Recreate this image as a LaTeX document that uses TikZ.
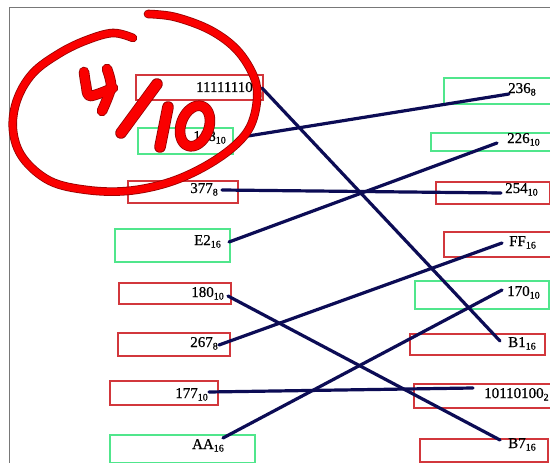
\documentclass[tikz,border=0pt]{standalone}
\usepackage{fontspec}
\setmainfont{Liberation Serif}
\newfontfamily\labfont[FakeBold=0.6]{Liberation Serif}
\definecolor{boxred}{RGB}{210,55,60}
\definecolor{boxgreen}{RGB}{80,230,140}
\definecolor{wirec}{RGB}{12,12,85}
\definecolor{frameg}{RGB}{120,120,120}
\definecolor{ink}{RGB}{250,0,0}
\definecolor{inkedge}{RGB}{150,0,0}
\newcommand\nb[2]{#1\raisebox{-2.5pt}{\fontsize{10}{10}\selectfont #2}}
\tikzset{
  rbox/.style={draw=boxred, line width=1.8pt, inner sep=0pt, anchor=north west},
  gbox/.style={draw=boxgreen, line width=1.8pt, inner sep=0pt, anchor=north west},
  ltext/.style={anchor=base east, inner sep=0pt, font=\labfont\fontsize{15}{15}\selectfont},
  rtext/.style={anchor=base west, inner sep=0pt, font=\labfont\fontsize{15}{15}\selectfont},
  wire/.style={draw=wirec, line width=3.2pt, line cap=round},
  inkline/.style={draw=ink, line cap=round, line join=round},
  inkunder/.style={draw=inkedge, line cap=round, line join=round}
}
\begin{document}
\begin{tikzpicture}[x=1pt,y=-1pt]
\useasboundingbox (0,0) rectangle (550,463);
\clip (0,0) rectangle (550,463);
\fill[white] (0,0) rectangle (550,463);
% frame
\draw[frameg, line width=1pt] (9,470) -- (9,7) -- (560,7);

% left boxes
\node[rbox, minimum width=127pt, minimum height=25pt] (L1) at (135,74) {};
\node[gbox, minimum width=95pt, minimum height=26pt] (L2) at (137,127) {};
\node[rbox, minimum width=110pt, minimum height=22pt] (L3) at (127,180) {};
\node[gbox, minimum width=115pt, minimum height=33pt] (L4) at (114,228) {};
\node[rbox, minimum width=112pt, minimum height=21pt] (L5) at (118,282) {};
\node[rbox, minimum width=112pt, minimum height=23pt] (L6) at (117,332) {};
\node[rbox, minimum width=108pt, minimum height=24pt] (L7) at (109,380) {};
\node[gbox, minimum width=145pt, minimum height=28pt] (L8) at (109,434) {};

% right boxes
\node[gbox, minimum width=117pt, minimum height=26pt] (R1) at (443,77) {};
\node[gbox, minimum width=130pt, minimum height=18pt] (R2) at (430,132) {};
\node[rbox, minimum width=114pt, minimum height=22pt] (R3) at (435,181) {};
\node[rbox, minimum width=117pt, minimum height=25pt] (R4) at (443,231) {};
\node[gbox, minimum width=134pt, minimum height=28pt] (R5) at (414,280) {};
\node[rbox, minimum width=135pt, minimum height=21pt] (R6) at (409,333) {};
\node[rbox, minimum width=147pt, minimum height=24pt] (R7) at (413,383) {};
\node[rbox, minimum width=128pt, minimum height=23pt] (R8) at (419,438) {};

% left labels
\node[ltext] (t1) at (253,92) {11111110};
\node[ltext] (t2) at (226,141) {\nb{158}{10}};
\node[ltext] (t3) at (218,193) {\nb{377}{8}};
\node[ltext] (t4) at (221,245) {\nb{E2}{16}};
\node[ltext] (t5) at (224,297) {\nb{180}{10}};
\node[ltext] (t6) at (218,347) {\nb{267}{8}};
\node[ltext] (t7) at (208,398) {\nb{177}{10}};
\node[ltext] (t8) at (224,449) {\nb{AA}{16}};

% right labels
\node[rtext] (u1) at (508,93) {\nb{236}{8}};
\node[rtext] (u2) at (507,143) {\nb{226}{10}};
\node[rtext] (u3) at (505,193) {\nb{254}{10}};
\node[rtext] (u4) at (509,246) {\nb{FF}{16}};
\node[rtext] (u5) at (507,296) {\nb{170}{10}};
\node[rtext] (u6) at (508,347) {\nb{B1}{16}};
\node[rtext] (u7) at (484,398) {\nb{10110100}{2}};
\node[rtext] (u8) at (508,448) {\nb{B7}{16}};

% connector ends
\coordinate (a1) at (262,88);
\coordinate (a2) at (248,136);
\coordinate (a3) at (222,190);
\coordinate (a4) at (229,242);
\coordinate (a5) at (228,296);
\coordinate (a6) at (219,345);
\coordinate (a7) at (209,392);
\coordinate (a8) at (223,438);
\coordinate (b1) at (509,94);
\coordinate (b2) at (497,143);
\coordinate (b3) at (501,193);
\coordinate (b4) at (502,243);
\coordinate (b5) at (502,290);
\coordinate (b6) at (500,341);
\coordinate (b7) at (473,388);
\coordinate (b8) at (500,440);

\draw[wire] (a1) -- (b6);
\draw[wire] (a2) -- (b1);
\draw[wire] (a3) -- (b3);
\draw[wire] (a4) -- (b2);
\draw[wire] (a5) -- (b8);
\draw[wire] (a6) -- (b4);
\draw[wire] (a7) -- (b7);
\draw[wire] (a8) -- (b5);

% red grading mark
\foreach \s/\w in {inkunder/1.6, inkline/0} {
  \draw[\s, line width=7pt+\w pt] plot[smooth, tension=0.6] coordinates {
    (148,14) (175,17) (210,30) (237,50) (254,77) (257,100) (250,127) (232,148)
    (202,168) (167,183) (127,191) (87,190) (50,181) (23,158) (13,130) (17,100)
    (33,73) (60,53) (87,40) (113,33) (133,38)};
  % 4
  \draw[\s, line width=9pt+\w pt] plot[smooth, tension=0.5] coordinates {(84,72) (86,85) (90,96) (113,88)};
  \draw[\s, line width=9pt+\w pt] plot[smooth, tension=0.5] coordinates {(107,69) (111,87) (102,111)};
  % slash
  \draw[\s, line width=10pt+\w pt] (157,84) -- (121,133);
  % 1
  \draw[\s, line width=10pt+\w pt] (168,107) -- (160,147);
  % 0
  \draw[\s, line width=9pt+\w pt, rotate around={-20:(195,126)}] (195,126) ellipse (14pt and 21pt);
}
\end{tikzpicture}
\end{document}
